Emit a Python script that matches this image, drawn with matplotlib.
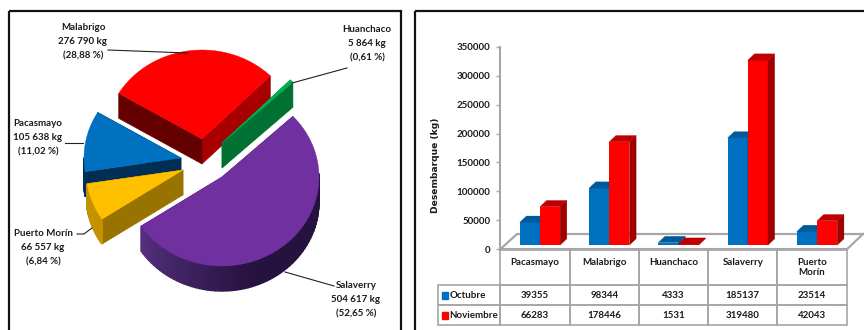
import numpy as np
from matplotlib import pyplot as plt
from matplotlib.colors import to_rgb
from matplotlib.patches import Polygon, Rectangle

plt.rcParams['font.family'] = ['Lato', 'DejaVu Sans']

W, H = 864, 330

# pie data
pie_names = ['Salaverry', 'Puerto Morín', 'Pacasmayo', 'Malabrigo', 'Huanchaco']
pie_kg = ['504 617', '66 557', '105 638', '276 790', '5 864']
pie_pct = [52.65, 6.84, 11.02, 28.88, 0.61]

# bar data
ports = ['Pacasmayo', 'Malabrigo', 'Huanchaco', 'Salaverry', 'Puerto\nMorín']
octubre = [39355, 98344, 4333, 185137, 23514]
noviembre = [66283, 178446, 1531, 319480, 42043]
y_ticks = [0, 50000, 100000, 150000, 200000, 250000, 300000, 350000]

fig = plt.figure(figsize=(W / 100, H / 100), dpi=100)

# whole figure in pixels, used for the frames and the pie
bg = fig.add_axes([0, 0, 1, 1])
bg.set_xlim(0, W)
bg.set_ylim(H, 0)
bg.axis('off')

bg.add_patch(Rectangle((9, 11), 392, 340, fill=False, ec='#111111', lw=1.6))
bg.add_patch(Rectangle((415, 11), 470, 340, fill=False, ec='#111111', lw=1.6))

# pie -------------------------------------------------------------------
rx, ry, depth = 97, 89, 25
start_angle = 43

# tip of each slice, colours: top, cut face at first edge, cut face at last edge, outer wall
tips = [(222, 177), (183, 170), (181, 158), (202, 139), (222, 143)]
tops = ['#7030A0', '#FFC000', '#0070C0', '#FF0000', '#00B050']
walls_a = ['#3A1C5E', '#997300', '#002E54', '#640000', '#007033']
walls_b = ['#3A1C5E', '#997300', '#002E54', '#A80000', '#007033']
walls_out = ['#3A1C5E', '#C49200', '#002E54', '#A80000', '#007033']
draw_order = [3, 4, 2, 1, 0]

edges = start_angle - np.cumsum([0] + pie_pct) * 3.6


def rim(tip, a):
    a = np.radians(a)
    return tip[0] + rx * np.cos(a), tip[1] - ry * np.sin(a)


def wall(p, q, color, lw=0.4):
    bg.fill([p[0], q[0], q[0], p[0]], [p[1], q[1], q[1] + depth, p[1] + depth],
            color=color, lw=lw, zorder=2)


for i in draw_order:
    tip = tips[i]
    a0, a1 = edges[i], edges[i + 1]
    wall(tip, rim(tip, a1), walls_b[i])
    wall(tip, rim(tip, a0), walls_a[i])
    # outer wall, only the part that looks down
    steps = np.linspace(a0, a1, 80)
    for s0, s1 in zip(steps[:-1], steps[1:]):
        if np.sin(np.radians(s0)) > 0 and np.sin(np.radians(s1)) > 0:
            continue
        color = walls_out[i]
        if i == 0:
            f = np.clip((s0 + 146) / 75, 0, 1)
            color = tuple((1 - f) * np.array(to_rgb('#55307F')) + f * np.array(to_rgb('#26123F')))
        wall(rim(tip, s0), rim(tip, s1), color, lw=1.0)
    ang = np.linspace(a0, a1, 80)
    xs, ys = rim(tip, ang)
    bg.add_patch(Polygon(np.column_stack([np.r_[tip[0], xs], np.r_[tip[1], ys]]),
                         fc=tops[i], ec=tops[i], lw=0.3, zorder=2))

label_pos = [(356, 300), (43, 248), (38, 138), (83, 42), (367, 44)]
leaders = [[(334, 286), (285, 272)],
           [(77, 234), (84, 234), (92, 228)],
           [(65, 143), (83, 143)],
           [(108, 50), (188, 53)],
           [(347, 68), (292, 83)]]

for name, kg, pct, pos, line in zip(pie_names, pie_kg, pie_pct, label_pos, leaders):
    pct_txt = '{:.2f}'.format(pct).replace('.', ',')
    bg.text(pos[0], pos[1], '{}\n{} kg\n({} %)'.format(name, kg, pct_txt),
            ha='center', va='center', fontsize=7, fontweight='bold', color='#1A1A1A',
            linespacing=1.72, zorder=4)
    bg.plot(*zip(*line), color='#222222', lw=0.8, zorder=3)

# bars ------------------------------------------------------------------
left, right, top, bottom = 500.3, 846.7, 46.7, 249.3
ax = fig.add_axes([left / W, 1 - bottom / H, (right - left) / W, (bottom - top) / H])
ax.patch.set_visible(False)
ax.set_xlim(-0.5, 4.5)
ax.set_ylim(0, 350000)

px_x = 5 / (right - left)
px_y = 350000 / (bottom - top)
lift = 4.2 * px_y
dx, dy = 6.7 * px_x, 6.3 * px_y
bar_w = 20.2 * px_x
shift = 5 * px_x

# floor behind the bars
grey = '#A6A6A6'
bg.plot([500, 517, 863], [249.5, 234, 234], color=grey, lw=1.6, zorder=1)
bg.plot([846.7, 863], [249.5, 234], color=grey, lw=1.6, zorder=1)

series = [(octubre, -0.5, '#0070C0', '#005A9A', '#004A80'),
          (noviembre, 0.5, '#FF0000', '#C00000', '#A00000')]
for k in range(len(ports)):
    for vals, side, front, roof, flank in series:
        x0 = k + shift + side * bar_w - bar_w / 2
        v = vals[k]
        ax.bar(x0, v, bar_w, bottom=lift, align='edge', color=front, zorder=3)
        ax.add_patch(Polygon([(x0, lift + v), (x0 + dx, lift + v + dy),
                              (x0 + bar_w + dx, lift + v + dy), (x0 + bar_w, lift + v)],
                             fc=roof, ec=roof, lw=0.2, zorder=3, clip_on=False))
        ax.add_patch(Polygon([(x0 + bar_w, lift), (x0 + bar_w + dx, lift + dy),
                              (x0 + bar_w + dx, lift + v + dy), (x0 + bar_w, lift + v)],
                             fc=flank, ec=flank, lw=0.2, zorder=3, clip_on=False))

for side in ['top', 'right']:
    ax.spines[side].set_visible(False)
for side in ['left', 'bottom']:
    ax.spines[side].set_color(grey)
    ax.spines[side].set_linewidth(1.5)
ax.set_xticks([])
ax.set_yticks(y_ticks)
ax.set_yticklabels([str(t) for t in y_ticks], fontsize=7, fontweight='bold', color='#1A1A1A')
ax.tick_params(axis='y', length=3, width=1, color=grey, pad=4)
ax.set_ylabel('Desembarque (kg)', fontsize=6.6, fontweight='bold', color='#1A1A1A',
              family='DejaVu Sans', labelpad=12, y=0.413)

# table under the axis, bbox only counts the data grid
rows = [[str(v) for v in octubre], [str(v) for v in noviembre]]
head_w = 62.6
tb = ax.table(cellText=rows, rowLabels=['Octubre', 'Noviembre'], rowLoc='left',
              colLabels=[p if '\n' in p else p + '\n ' for p in ports],
              cellLoc='center', colWidths=[0.2] * 5,
              bbox=[0, -75.7 / (bottom - top), 1, 75 / (bottom - top)])
tb.auto_set_font_size(False)
tb._autoColumns = []  # otherwise the row label width gets reset on draw
for (r, c), cell in tb.get_celld().items():
    cell.set_edgecolor(grey)
    cell.set_linewidth(1.2)
    cell.set_facecolor('none')
    cell.set_height(35 if r == 0 else 20)
    cell.set_text_props(fontsize=7, fontweight='bold', color='#1A1A1A')
    if c == -1:
        cell.set_width(0.2 * head_w / ((right - left) / 5))
        cell.PAD = 12 / head_w

bg.add_patch(Rectangle((442, 292), 6, 7, color='#0070C0', zorder=2))
bg.add_patch(Rectangle((442, 312), 6, 7, color='#FF0000', zorder=2))

fig.savefig('out.png', dpi=100)
